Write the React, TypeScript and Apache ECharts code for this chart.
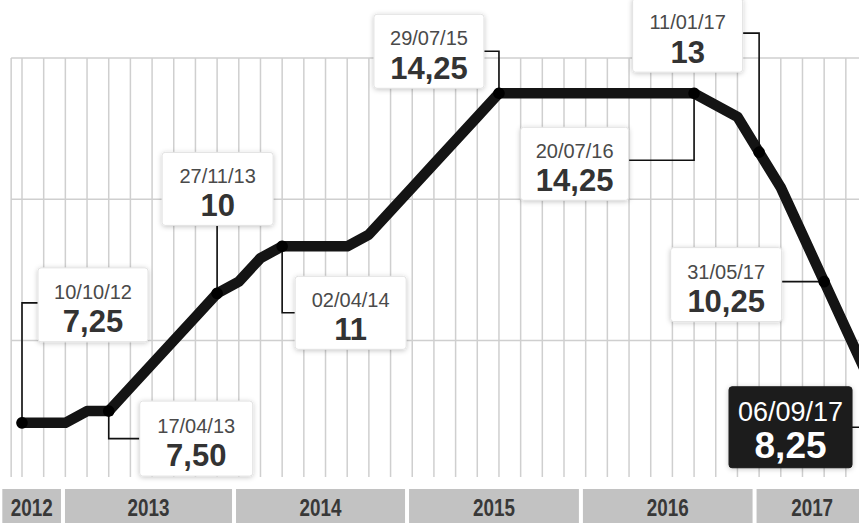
import React, { useEffect, useRef } from "react";
import * as echarts from "echarts";

// Selic rate at each Copom meeting slot (one vertical grid line per meeting)
const rates = [
  7.25, 7.25, 7.25, 7.5, 7.5, 8, 8.5, 9, 9.5, 10,
  10.25, 10.75, 11, 11, 11, 11, 11.25, 11.75, 12.25, 12.75,
  13.25, 13.75, 14.25, 14.25, 14.25, 14.25, 14.25, 14.25, 14.25, 14.25,
  14.25, 14.25, 14, 13.75, 13, 12.25, 11.25, 10.25, 9.25, 8.25,
];

// Annotated meetings
const annDates = ["10/10/12", "17/04/13", "27/11/13", "02/04/14", "29/07/15", "20/07/16", "11/01/17", "31/05/17", "06/09/17"];
const annSlots = [0, 4, 9, 12, 22, 31, 34, 37, 39];
const annLabels = ["7,25", "7,50", "10", "11", "14,25", "14,25", "13", "10,25", "8,25"];

// Year bands along the bottom (in meeting-slot units)
const years = ["2012", "2013", "2014", "2015", "2016", "2017"];
const yearStart = [-1.0, 1.89, 9.78, 17.76, 25.78, 33.79];
const yearEnd = [1.89, 9.78, 17.76, 25.78, 33.79, 39.1];

// Horizontal grid lines
const yTicks = [9, 12, 15];

// Layout of annotation boxes relative to their point (pixels)
const annLayout = [
  { dx: 71, dy: -118, w: 110, h: 74, cy: -2 },
  { dx: 87.5, dy: 27.5, w: 113, h: 75, cy: 0 },
  { dx: 0.5, dy: -104.5, w: 111, h: 73, cy: 0 },
  { dx: 68.5, dy: 66.5, w: 111, h: 73, cy: 0 },
  { dx: -70, dy: -42, w: 110, h: 74, cy: 0 },
  { dx: -119.5, dy: 70.5, w: 108, h: 73, cy: -3.5 },
  { dx: -71.5, dy: -117, w: 110, h: 74, cy: -2 },
  { dx: -98, dy: 3, w: 111, h: 74, cy: -3 },
  { dx: -77, dy: 51.5, w: 123, h: 81, cy: 0, dark: true },
];

export default function App() {
  const ref = useRef<HTMLDivElement>(null);

  useEffect(() => {
    if (!ref.current) return;
    const chart = echarts.init(ref.current, undefined, { renderer: "svg" });
    const slots = rates.map((_, i) => i);
    const gridColor = "#cfcfcf";

    const option: any = {
      animation: false,
      backgroundColor: "#ffffff",
      grid: [
        { left: 11.16, top: 58, width: 867.2, height: 419 },
        { left: 11.16, top: 489, width: 867.2, height: 34 },
      ],
      xAxis: [
        { type: "value", min: -0.5, max: 39.5, show: false, gridIndex: 0 },
        { type: "value", min: -0.5, max: 39.5, show: false, gridIndex: 1 },
      ],
      yAxis: [
        { type: "value", min: 6.1, max: 15, show: false, gridIndex: 0 },
        { type: "value", min: 0, max: 1, show: false, gridIndex: 1 },
      ],
      series: [
        {
          type: "custom",
          z: 1,
          silent: true,
          clip: false,
          xAxisIndex: 0,
          yAxisIndex: 0,
          data: slots.map((s) => [s, 15]),
          renderItem: (params: any, api: any) => {
            const cs = params.coordSys;
            const x = api.coord([api.value(0), 15])[0];
            const children: any[] = [
              {
                type: "line",
                shape: { x1: x, y1: cs.y, x2: x, y2: cs.y + cs.height },
                style: { stroke: gridColor, lineWidth: 1.5 },
              },
            ];
            if (params.dataIndex === 0) {
              children.push({
                type: "line",
                shape: { x1: cs.x, y1: cs.y, x2: cs.x, y2: cs.y + cs.height },
                style: { stroke: gridColor, lineWidth: 1.5 },
              });
            }
            return { type: "group", children };
          },
        },
        {
          type: "custom",
          z: 1,
          silent: true,
          clip: false,
          xAxisIndex: 0,
          yAxisIndex: 0,
          data: yTicks.map((t) => [-0.5, t]),
          renderItem: (params: any, api: any) => {
            const cs = params.coordSys;
            const y = api.coord([0, api.value(1)])[1];
            return {
              type: "line",
              shape: { x1: cs.x, y1: y, x2: cs.x + cs.width, y2: y },
              style: { stroke: gridColor, lineWidth: 1.5 },
            };
          },
        },
        {
          type: "line",
          z: 3,
          silent: true,
          xAxisIndex: 0,
          yAxisIndex: 0,
          data: rates.map((v, i) => [i, v]),
          showSymbol: false,
          symbol: "none",
          lineStyle: { color: "#141414", width: 10.5, cap: "round", join: "round" },
        },
        {
          type: "custom",
          z: 4,
          silent: true,
          clip: false,
          xAxisIndex: 0,
          yAxisIndex: 0,
          data: annSlots.map((s) => [s, rates[s]]),
          renderItem: (params: any, api: any) => {
            const i = params.dataIndex;
            const p = api.coord([api.value(0), api.value(1)]);
            const L: any = annLayout[i];
            const cx = p[0] + L.dx;
            const cy = p[1] + L.dy;
            const left = cx - L.w / 2;
            const top = cy - L.h / 2;
            const right = left + L.w;
            const bottom = top + L.h;
            let pts: number[][];
            if (p[0] >= left && p[0] <= right) {
              pts = [[p[0], p[1]], [p[0], p[1] > cy ? bottom : top]];
            } else {
              const hy = cy + L.cy;
              pts = [[p[0], p[1]], [p[0], hy], [p[0] < left ? left : right, hy]];
            }
            const dark = !!L.dark;
            return {
              type: "group",
              children: [
                {
                  type: "polyline",
                  shape: { points: pts },
                  style: { stroke: "#111", lineWidth: 1.6, fill: "none" },
                },
                {
                  type: "circle",
                  shape: { cx: p[0], cy: p[1], r: 5.8 },
                  style: { fill: "#000" },
                },
                {
                  type: "rect",
                  shape: { x: left, y: top, width: L.w, height: L.h, r: 3 },
                  style: {
                    fill: dark ? "#1b1b1b" : "#ffffff",
                    stroke: dark ? "#1b1b1b" : "#e2e2e2",
                    lineWidth: 1,
                    shadowBlur: 5,
                    shadowOffsetY: 1,
                    shadowColor: "rgba(0,0,0,0.22)",
                  },
                },
                {
                  type: "text",
                  x: cx,
                  y: cy + (dark ? -15.5 : -13),
                  style: {
                    text: annDates[i],
                    align: "center",
                    verticalAlign: "middle",
                    fontFamily: "'Liberation Sans', Arial, sans-serif",
                    fontSize: dark ? 27 : 20,
                    fill: dark ? "#ffffff" : "#4a4a4a",
                  },
                },
                {
                  type: "text",
                  x: cx,
                  y: cy + (dark ? 18 : 17),
                  style: {
                    text: annLabels[i],
                    align: "center",
                    verticalAlign: "middle",
                    fontFamily: "'Liberation Sans', Arial, sans-serif",
                    fontWeight: "bold",
                    fontSize: dark ? 37 : 31,
                    fill: dark ? "#ffffff" : "#333333",
                  },
                },
              ],
            };
          },
        },
        {
          type: "custom",
          z: 2,
          silent: true,
          clip: false,
          xAxisIndex: 1,
          yAxisIndex: 1,
          data: years.map((_, k) => [yearStart[k], yearEnd[k]]),
          renderItem: (params: any, api: any) => {
            const cs = params.coordSys;
            const x0 = api.coord([api.value(0), 0])[0] + 2;
            const x1 = api.coord([api.value(1), 0])[0] - 2;
            return {
              type: "group",
              children: [
                {
                  type: "rect",
                  shape: { x: x0, y: cs.y, width: x1 - x0, height: cs.height },
                  style: { fill: "#c2c2c2" },
                },
                {
                  type: "text",
                  x: (x0 + x1) / 2,
                  y: cs.y + 19,
                  scaleX: 0.82,
                  style: {
                    text: years[params.dataIndex],
                    align: "center",
                    verticalAlign: "middle",
                    fontFamily: "'Liberation Sans', Arial, sans-serif",
                    fontWeight: "bold",
                    fontSize: 23,
                    fill: "#383838",
                  },
                },
              ],
            };
          },
        },
      ],
    };

    chart.setOption(option);
    return () => chart.dispose();
  }, []);

  return (
    <div
      style={{ position: "absolute", left: 0, top: 0, width: 859, height: 523, overflow: "hidden", background: "#fff" }}
    >
      <div ref={ref} style={{ width: 900, height: 523 }} />
    </div>
  );
}
